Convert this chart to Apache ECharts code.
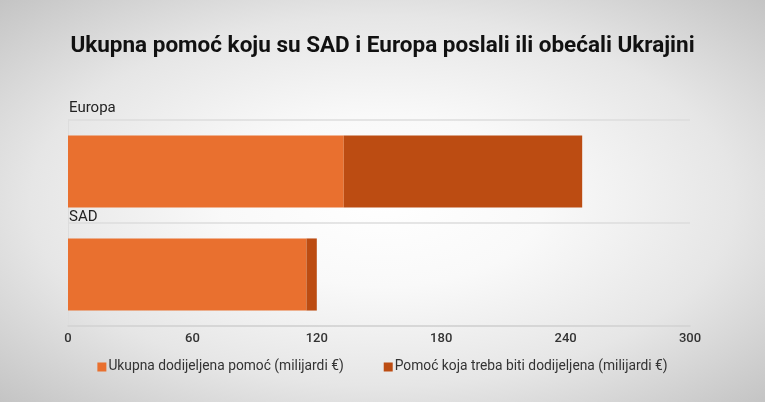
<!DOCTYPE html>
<html>
<head>
<meta charset="utf-8">
<script src="https://cdn.jsdelivr.net/npm/echarts@6/dist/echarts.min.js"></script>
<style>
html,body{margin:0;padding:0;}
#c{width:765px;height:402px;background:radial-gradient(ellipse farthest-corner at 50% 50%, #ffffff 0%, #f9f9f9 30%, #e6e6e6 65%, #c4c4c4 100%);}
</style>
</head>
<body>
<div id="c"></div>
<script>
const categories = ['Europa', 'SAD'];
const seriesNames = ['Ukupna dodijeljena pomoć (milijardi €)', 'Pomoć koja treba biti dodijeljena (milijardi €)'];
const allocated = [133, 115];
const pending = [115, 5];
const xTicks = [0, 60, 120, 180, 240, 300];
const titleText = 'Ukupna pomoć koju su SAD i Europa poslali ili obećali Ukrajini';

const chart = echarts.init(document.getElementById('c'));
chart.setOption({
  backgroundColor: 'transparent',
  animation: false,
  textStyle: {fontFamily: 'Roboto'},
  title: {
    text: titleText,
    left: 'center', top: 30,
    textStyle: {fontFamily: 'Roboto', fontWeight: 'bold', fontSize: 22.5, color: '#111'}
  },
  legend: {
    bottom: 23, left: 'center',
    icon: 'rect', itemWidth: 9, itemHeight: 9, itemGap: 40,
    textStyle: {fontFamily: 'Roboto', fontSize: 13.8, color: '#333', padding: [0, 0, 0, -3]},
    data: seriesNames
  },
  grid: {left: 68, right: 75, top: 120, bottom: 76, containLabel: false},
  xAxis: {
    type: 'value', min: xTicks[0], max: xTicks[xTicks.length - 1], interval: 60,
    axisLine: {show: true, lineStyle: {color: '#d2d2d2', width: 1.5}},
    axisTick: {show: false},
    splitLine: {show: false},
    axisLabel: {margin: 6, fontSize: 13, fontWeight: 500, color: '#333'}
  },
  yAxis: {
    type: 'category', inverse: true, data: categories,
    axisLine: {show: true, lineStyle: {color: '#dddddd'}},
    axisTick: {show: false},
    splitLine: {show: true, lineStyle: {color: '#dddddd', width: 1.5}},
    axisLabel: {
      inside: true, margin: 1, align: 'left',
      formatter: v => '{' + (v === 'Europa' ? 'e' : 's') + '|' + v + '}',
      rich: {
        e: {fontSize: 15, color: '#222', fontFamily: 'Roboto', padding: [0, 0, 126, 0]},
        s: {fontSize: 15, color: '#222', fontFamily: 'Roboto', padding: [0, 0, 115, 0]}
      }
    }
  },
  series: [
    {name: seriesNames[0], type: 'bar', stack: 'a', data: allocated, barWidth: '70%',
     itemStyle: {color: '#E9702F'}},
    {name: seriesNames[1], type: 'bar', stack: 'a', data: pending, barWidth: '70%',
     itemStyle: {color: '#BC4C12'}}
  ]
});
</script>
</body>
</html>
